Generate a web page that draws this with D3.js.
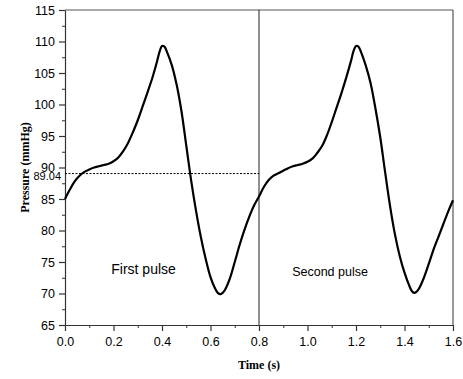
<!DOCTYPE html>
<html>
<head>
<meta charset="utf-8">
<script src="https://cdn.jsdelivr.net/npm/d3@7"></script>
<style>
  body { margin: 0; background: #fff; }
  .tick text { font-family: "Liberation Sans", Arial, sans-serif; font-size: 12.5px; fill: #000; }
  .axis path, .axis line { stroke: #333; }
  .label { font-family: "Liberation Serif", "Times New Roman", serif; font-weight: bold; font-size: 12px; }
  .note { font-family: "Liberation Sans", Arial, sans-serif; fill: #000; }
</style>
</head>
<body>
<svg id="chart"></svg>
<script>
// pressure waveform
var time = [0.00, 0.02, 0.04, 0.06, 0.08, 0.10, 0.12, 0.14, 0.16, 0.18, 0.20, 0.22, 0.24, 0.26, 0.28,
  0.30, 0.32, 0.34, 0.36, 0.38, 0.39, 0.40, 0.41, 0.42, 0.44, 0.46, 0.48, 0.50, 0.52, 0.54, 0.56, 0.58,
  0.60, 0.62, 0.63, 0.64, 0.65, 0.66, 0.68, 0.70, 0.72, 0.74, 0.76, 0.78, 0.80,
  0.82, 0.84, 0.86, 0.88, 0.90, 0.92, 0.94, 0.96, 0.98, 1.00, 1.02, 1.04, 1.06, 1.08,
  1.10, 1.12, 1.14, 1.16, 1.18, 1.19, 1.20, 1.21, 1.22, 1.24, 1.26, 1.28, 1.30, 1.32, 1.34, 1.36, 1.38,
  1.40, 1.42, 1.43, 1.44, 1.45, 1.46, 1.48, 1.50, 1.52, 1.54, 1.56, 1.58, 1.60];
var pressure = [85.0, 86.5, 87.8, 88.7, 89.3, 89.7, 90.0, 90.2, 90.4, 90.6, 91.0, 91.6, 92.6, 93.9, 95.6,
  97.5, 99.7, 101.9, 104.2, 106.9, 108.4, 109.3, 109.2, 108.4, 106.3, 103.2, 99.0, 93.5, 88.0, 83.2, 79.0, 75.5,
  72.6, 70.7, 70.1, 69.9, 70.1, 70.6, 72.4, 75.0, 77.7, 80.1, 82.2, 84.0, 85.4,
  86.9, 88.0, 88.7, 89.1, 89.5, 89.9, 90.2, 90.4, 90.6, 90.9, 91.4, 92.3, 93.4, 95.1,
  97.2, 99.5, 101.8, 104.3, 107.0, 108.5, 109.3, 109.2, 108.4, 106.2, 103.4, 99.4, 94.8, 89.3, 84.0, 79.5, 76.0,
  73.3, 71.2, 70.4, 70.1, 70.3, 70.8, 72.5, 74.7, 77.0, 79.0, 81.0, 83.0, 84.8];

var xTicks = [0.0, 0.2, 0.4, 0.6, 0.8, 1.0, 1.2, 1.4, 1.6];
var xMinor = [0.1, 0.3, 0.5, 0.7, 0.9, 1.1, 1.3, 1.5];
var yTicks = [65, 70, 75, 80, 85, 90, 95, 100, 105, 110, 115];
var yMinor = [67.5, 72.5, 77.5, 82.5, 87.5, 92.5, 97.5, 102.5, 107.5, 112.5];
var meanPressure = 89.04;
var pulseSplit = 0.8;
var pulseLabels = ["First pulse", "Second pulse"];

var width = 463, height = 379;
var margin = { top: 10, right: 10, bottom: 54, left: 65 };
var w = width - margin.left - margin.right;
var h = height - margin.top - margin.bottom;

var svg = d3.select("#chart").attr("width", width).attr("height", height);
var g = svg.append("g").attr("transform", "translate(" + margin.left + "," + margin.top + ")");

var x = d3.scaleLinear().domain([0, 1.6]).range([0, w]);
var y = d3.scaleLinear().domain([65, 115]).range([h, 0]);

// frame top / right
g.append("line").attr("x1", 0).attr("x2", w).attr("y1", 0).attr("y2", 0)
  .attr("stroke", "#555").attr("stroke-width", 1.2);
g.append("line").attr("x1", w).attr("x2", w).attr("y1", 0).attr("y2", h)
  .attr("stroke", "#555").attr("stroke-width", 1.2);

// minor ticks
g.append("g").attr("class", "axis").attr("transform", "translate(0," + h + ")")
  .call(d3.axisBottom(x).tickValues(xMinor).tickSize(3).tickFormat(""))
  .select(".domain").remove();
g.append("g").attr("class", "axis")
  .call(d3.axisLeft(y).tickValues(yMinor).tickSize(3).tickFormat(""))
  .select(".domain").remove();

// major axes
var gx = g.append("g").attr("class", "axis").attr("transform", "translate(0," + h + ")")
  .call(d3.axisBottom(x).tickValues(xTicks).tickSize(6).tickSizeOuter(0).tickPadding(6).tickFormat(d3.format(".1f")));
var gy = g.append("g").attr("class", "axis")
  .call(d3.axisLeft(y).tickValues(yTicks).tickSize(6).tickSizeOuter(0).tickPadding(4));
gx.selectAll("path, line").attr("stroke-width", 1.2);
gy.selectAll("path, line").attr("stroke-width", 1.2);

// pulse divider and mean line
g.append("line").attr("x1", x(pulseSplit)).attr("x2", x(pulseSplit)).attr("y1", 0).attr("y2", h)
  .attr("stroke", "#222").attr("stroke-width", 1);
g.append("line").attr("x1", 0).attr("x2", x(pulseSplit))
  .attr("y1", y(meanPressure)).attr("y2", y(meanPressure))
  .attr("stroke", "#000").attr("stroke-width", 1).attr("stroke-dasharray", "2,1.5");
g.append("text").attr("class", "note")
  .attr("x", -4).attr("y", y(meanPressure) + 6.5)
  .attr("text-anchor", "end").style("font-size", "11px")
  .text(meanPressure.toFixed(2));

// waveform
var pts = time.map(function (t, i) { return [t, pressure[i]]; });
var line = d3.line()
  .x(function (d) { return x(d[0]); })
  .y(function (d) { return y(d[1]); })
  .curve(d3.curveCatmullRom.alpha(0.5));
g.append("path").datum(pts)
  .attr("fill", "none").attr("stroke", "#000").attr("stroke-width", 2.2)
  .attr("stroke-linejoin", "round").attr("d", line);

// pulse labels
g.append("text").attr("class", "note").attr("x", x(0.324)).attr("y", y(73.1))
  .attr("text-anchor", "middle").style("font-size", "14px").text(pulseLabels[0]);
g.append("text").attr("class", "note").attr("x", x(1.093)).attr("y", y(72.7))
  .attr("text-anchor", "middle").style("font-size", "12.5px").text(pulseLabels[1]);

// axis titles
g.append("text").attr("class", "label").attr("x", w / 2).attr("y", h + 44)
  .attr("text-anchor", "middle").text("Time (s)");
g.append("text").attr("class", "label")
  .attr("transform", "translate(" + (-36) + "," + (h / 2) + ") rotate(-90)")
  .attr("text-anchor", "middle").text("Pressure (mmHg)");
</script>
</body>
</html>
